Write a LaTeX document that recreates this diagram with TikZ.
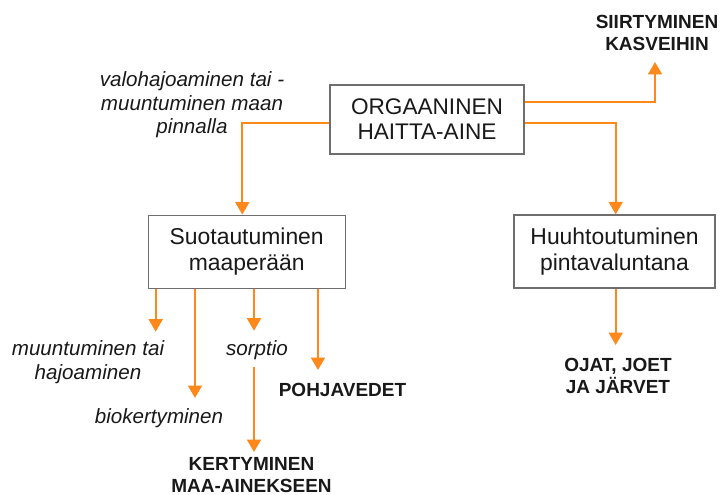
\documentclass[tikz,border=0pt]{standalone}
\usepackage{fontspec}
\setmainfont{Liberation Sans}
\usetikzlibrary{arrows.meta}
\definecolor{orng}{RGB}{255,136,26}
\definecolor{boxgray}{RGB}{110,110,110}
\definecolor{txt}{RGB}{25,25,25}
\begin{document}
\begin{tikzpicture}[x=1pt,y=1pt,
  box/.style={draw=boxgray,line width=1.3pt,fill=white,align=center,inner sep=0pt,text=txt},
  arr/.style={draw=orng,line width=1.8pt,-{Triangle[width=14pt,length=12.5pt]}},
  lbl/.style={align=center,inner sep=0pt,text=txt,font=\fontsize{20.6}{23.5}\selectfont\itshape},
  blbl/.style={align=center,inner sep=0pt,text=txt,font=\fontsize{19}{21.5}\selectfont\bfseries}]
\useasboundingbox (0,0) rectangle (720,-495);
% boxes
\node[box,minimum width=194pt,minimum height=69pt,font=\fontsize{22.6}{25}\selectfont] (main) at (427,-119.5) {ORGAANINEN\\HAITTA-AINE};
\node[box,minimum width=197pt,minimum height=73pt,font=\fontsize{22.9}{25.5}\selectfont] (suo) at (246.7,-251.7) {Suotautuminen\\maaperään};
\node[box,minimum width=201pt,minimum height=73pt,font=\fontsize{22.9}{26}\selectfont] (huu) at (614.5,-251.5) {Huuhtoutuminen\\pintavaluntana};
% labels
\node[blbl] (siir) at (657,-33) {SIIRTYMINEN\\KASVEIHIN};
\node[lbl] (valo) at (192,-105) {valohajoaminen tai -\\muuntuminen maan\\pinnalla};
\node[lbl] (muun) at (88,-362) {muuntuminen tai\\hajoaminen};
\node[lbl] (bio) at (159,-418) {biokertyminen};
\node[lbl] (sorp) at (257,-350) {sorptio};
\node[blbl] (pohja) at (342.5,-390) {POHJAVEDET};
\node[blbl] (kert) at (251.5,-475) {KERTYMINEN\\MAA-AINEKSEEN};
\node[blbl] (ojat) at (618,-376) {OJAT, JOET\\JA JÄRVET};
% coordinates
\coordinate (tS) at (655,-62);
\coordinate (t1) at (155.7,-331.7);
\coordinate (t2) at (195,-398);
\coordinate (t3) at (254,-330.7);
\coordinate (t4) at (318,-370);
\coordinate (s5) at (254,-367);
\coordinate (t5) at (254,-452);
\coordinate (t6) at (615.7,-345);
% connectors
\draw[arr] ([yshift=-3.5pt]main.west) -| ([xshift=-4.4pt]suo.north);
\draw[arr] ([yshift=17.2pt]main.east) -| (tS);
\draw[arr] ([yshift=-3.2pt]main.east) -| ([xshift=1.2pt]huu.north);
\draw[arr] (suo.south -| t1) -- (t1);
\draw[arr] (suo.south -| t2) -- (t2);
\draw[arr] (suo.south -| t3) -- (t3);
\draw[arr] (suo.south -| t4) -- (t4);
\draw[arr] (s5) -- (t5);
\draw[arr] (huu.south -| t6) -- (t6);
\end{tikzpicture}
\end{document}
